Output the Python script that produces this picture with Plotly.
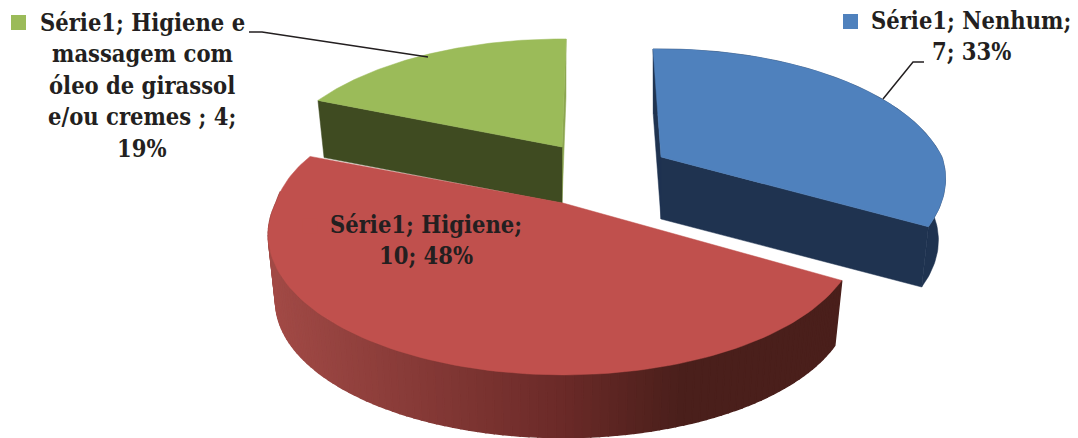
import numpy as np
import plotly.graph_objects as go

# Data
series_name = "Série1"
categories = ["Nenhum", "Higiene", "Higiene e massagem com óleo de girassol e/ou cremes "]
values = [7, 10, 4]
percents = ["33%", "48%", "19%"]

# Label wrapping, same order as categories
label_lines = [
    ["Série1; Nenhum;", "7; 33%"],
    ["Série1; Higiene;", "10; 48%"],
    ["Série1; Higiene e", "massagem com", "óleo de girassol", "e/ou cremes ; 4;", "19%"],
]

top_colors = ["#4F81BD", "#C0504D", "#9BBB59"]
wall_colors = ["#1F3350", "#4A1F1B", "#3F4B21"]

# Pie geometry in page pixels (exploded slices, so one apex per slice)
apex_x = [661, 563, 562]
apex_y = [157, 203, 147]
depth = [62, 67, 56]
radius_x = [281, 287, 287]
skew_deg = [-3, 0, 0]
front_shear = [0.15, 0, 0]
back_shear = [0, 0.19, 0]
START_DEG = 1
RADIUS_Y = 132.7
PERSPECTIVE = 0.228
BOTTOM_SCALE = 0.975

label_x = [971, 426, 142]
label_y = [21, 225, 23]
LINE_STEP = 31.4
key_x = [850.5, 310, 18.5]
key_y = [21.5, 226, 22.5]
leader_x = [[924, 913, 883], None, [249, 262, 428]]
leader_y = [[62, 62, 99], None, [32, 32, 57]]

FONT = "DejaVu Serif Condensed"
FONT_SIZE = 23.5
TEXT_COLOR = "#231F20"

# the page body has an 8px margin, axes start there so coordinates stay page pixels
PAGE_W, PAGE_H, BODY = 1078, 438, 8


def project(i, theta_deg, bottom=False):
    t = np.radians(theta_deg)
    u, v = np.sin(t), np.cos(t)
    w = 1 + PERSPECTIVE * v
    s = BOTTOM_SCALE if bottom else 1.0
    dy = -RADIUS_Y * s * v / w
    # the original's rim is not a clean ellipse, lean the front and back halves a bit
    x = apex_x[i] + radius_x[i] * s * u / w
    x = x - front_shear[i] * np.maximum(dy, 0) - back_shear[i] * np.maximum(-dy, 0)
    y = apex_y[i] + dy + (depth[i] if bottom else 0)
    return x, y


def poly(x, y, color, width=0.5):
    return go.Scatter(x=list(x), y=list(y), mode="lines", fill="toself", fillcolor=color,
                      line=dict(color=color, width=width), hoverinfo="skip", showlegend=False)


def side_color(x):
    # red side gets darker going right, flat after about x=680
    stops_x = [268, 560, 680]
    r = np.interp(x, stops_x, [162, 107, 74])
    g = np.interp(x, stops_x, [74, 42, 31])
    b = np.interp(x, stops_x, [70, 40, 27])
    return f"rgb({r:.0f},{g:.0f},{b:.0f})"


# Slice angles from the values
total = sum(values)
spans = [v / total * 360 for v in values]
starts = [START_DEG + sum(spans[:i]) + skew_deg[i] for i in range(len(values))]
ends = [starts[i] + spans[i] for i in range(len(values))]

fig = go.Figure()


def wall(i, theta, color):
    x0, y0 = apex_x[i], apex_y[i]
    x1, y1 = project(i, theta)
    x2, y2 = project(i, theta, True)
    return poly([x0, x1, x2, x0, x0], [y0, y1, y2, y0 + depth[i], y0], color)


def top(i):
    th = np.linspace(starts[i], ends[i], 120)
    px, py = project(i, th)
    return poly([apex_x[i], *px, apex_x[i]], [apex_y[i], *py, apex_y[i]], top_colors[i])


def outer(i, color):
    th = np.linspace(starts[i], ends[i], 120)
    x1, y1 = project(i, th)
    x2, y2 = project(i, th, True)
    return poly([*x1, *x2[::-1]], [*y1, *y2[::-1]], color)


# Green slice, at the back
fig.add_trace(wall(2, ends[2], "#8CA650"))
fig.add_trace(wall(2, starts[2], wall_colors[2]))
fig.add_trace(top(2))

# Blue slice
fig.add_trace(wall(0, starts[0], wall_colors[0]))
fig.add_trace(outer(0, wall_colors[0]))
fig.add_trace(wall(0, ends[0], wall_colors[0]))
fig.add_trace(top(0))

# Red slice, side drawn as thin bands for the gradient
edges = np.linspace(starts[1], min(ends[1], 275), 111)
for a, b in zip(edges[:-1], edges[1:]):
    x1a, y1a = project(1, a)
    x1b, y1b = project(1, b)
    x2a, y2a = project(1, a, True)
    x2b, y2b = project(1, b, True)
    fig.add_trace(poly([x1a, x1b, x2b, x2a, x1a], [y1a, y1b, y2b, y2a, y1a], side_color((x1a + x1b) / 2), 1.5))
fig.add_trace(top(1))

# Leader lines
for lx, ly in zip(leader_x, leader_y):
    if lx:
        fig.add_trace(go.Scatter(x=lx, y=ly, mode="lines", line=dict(color=TEXT_COLOR, width=1.5),
                                 hoverinfo="skip", showlegend=False))

# Legend keys
fig.add_trace(go.Scatter(x=key_x, y=key_y, mode="markers",
                         marker=dict(symbol="square", size=15, color=top_colors, line=dict(width=0)),
                         hoverinfo="skip", showlegend=False))

# One annotation per line to hold the line spacing of the original
for i in range(len(categories)):
    for n, line in enumerate(label_lines[i]):
        fig.add_annotation(x=label_x[i], y=label_y[i] + n * LINE_STEP, text=line, showarrow=False,
                           xanchor="center", yanchor="middle", align="center",
                           font=dict(family=FONT, size=FONT_SIZE, color=TEXT_COLOR, weight="bold"))

fig.update_layout(
    width=PAGE_W - BODY, height=PAGE_H - BODY,
    margin=dict(l=0, r=0, t=0, b=0),
    paper_bgcolor="white", plot_bgcolor="white",
    xaxis=dict(range=[BODY, PAGE_W], visible=False, fixedrange=True),
    yaxis=dict(range=[PAGE_H, BODY], visible=False, fixedrange=True),
    showlegend=False,
)
fig.write_html("out.html")
